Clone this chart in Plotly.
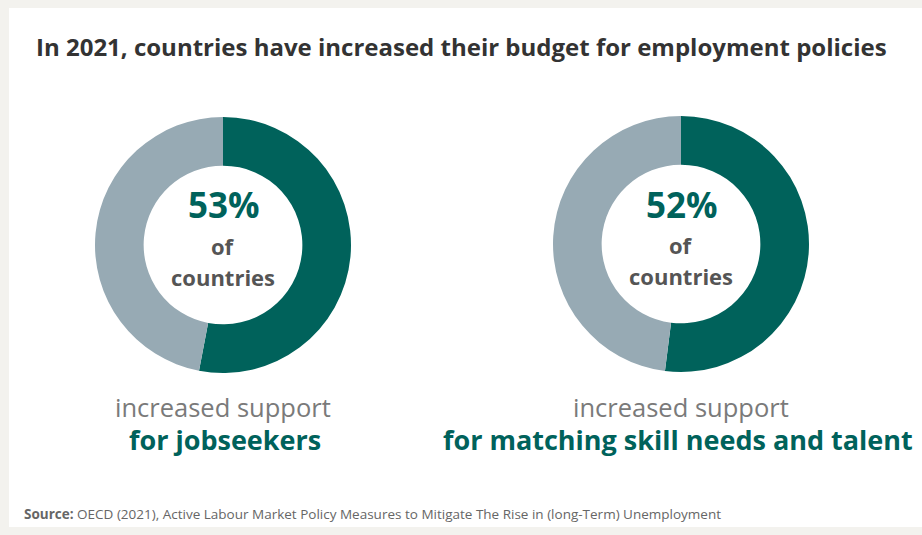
import plotly.graph_objects as go

# Data
labels = ["Increased", "Other"]
share_jobseekers = [53, 47]
share_skills = [52, 48]
pct_labels = ["53%", "52%"]
captions_top = ["increased support", "increased support"]
captions_bottom = ["for jobseekers", "for matching skill needs and talent"]
title_text = "In 2021, countries have increased their budget for employment policies"
source_text = "<b>Source:</b> OECD (2021), Active Labour Market Policy Measures to Mitigate The Rise in (long-Term) Unemployment"

W, H = 922, 535
TEAL = "#00625b"
GREY = "#97aab4"

def px_x(x):
    return x / W

def px_y(y):
    return 1 - y / H

fig = go.Figure()

centers = [(223, 245), (681, 244)]
R = 128
for (cx, cy), vals in zip(centers, [share_jobseekers, share_skills]):
    fig.add_trace(go.Pie(
        labels=labels, values=vals, hole=0.62, sort=False,
        direction="clockwise", rotation=0,
        marker=dict(colors=[TEAL, GREY], line=dict(width=0)),
        textinfo="none", hoverinfo="label+percent", showlegend=False,
        domain=dict(x=[px_x(cx - R), px_x(cx + R)], y=[px_y(cy + R), px_y(cy - R)]),
    ))

annotations = []
annotations.append(dict(x=px_x(34), y=px_y(46), xref="paper", yref="paper", xanchor="left", yanchor="middle",
                        text="<b>" + title_text + "</b>", showarrow=False,
                        font=dict(family="Open Sans", size=24, color="#333333")))
for i, (cx, cy) in enumerate(centers):
    annotations.append(dict(x=px_x(cx + 1), y=px_y(cy - 40), xref="paper", yref="paper", xanchor="center", yanchor="middle",
                            text="<b>" + pct_labels[i] + "</b>", showarrow=False,
                            font=dict(family="Open Sans", size=35, color=TEAL)))
    annotations.append(dict(x=px_x(cx), y=px_y(cy + 1), xref="paper", yref="paper", xanchor="center", yanchor="middle",
                            text="<b>of</b>", showarrow=False,
                            font=dict(family="Open Sans", size=22, color="#555555")))
    annotations.append(dict(x=px_x(cx), y=px_y(cy + 32), xref="paper", yref="paper", xanchor="center", yanchor="middle",
                            text="<b>countries</b>", showarrow=False,
                            font=dict(family="Open Sans", size=22, color="#555555")))
    annotations.append(dict(x=px_x(cx), y=px_y(407), xref="paper", yref="paper", xanchor="center", yanchor="middle",
                            text=captions_top[i], showarrow=False,
                            font=dict(family="Open Sans", size=25.5, color="#7a7a7a")))
    annotations.append(dict(x=px_x(cx + 2 if i == 0 else cx - 3), y=px_y(439), xref="paper", yref="paper", xanchor="center", yanchor="middle",
                            text="<b>" + captions_bottom[i] + "</b>", showarrow=False,
                            font=dict(family="Open Sans", size=27, color=TEAL)))
annotations.append(dict(x=px_x(22), y=px_y(514), xref="paper", yref="paper", xanchor="left", yanchor="middle",
                        text=source_text, showarrow=False,
                        font=dict(family="Open Sans", size=13.5, color="#666666")))

fig.update_layout(
    width=W, height=H,
    margin=dict(l=0, r=0, t=0, b=0),
    paper_bgcolor="#f3f2ee",
    plot_bgcolor="#ffffff",
    annotations=annotations,
    shapes=[dict(type="rect", xref="paper", yref="paper", x0=px_x(9), x1=1, y0=px_y(527), y1=px_y(8),
                 fillcolor="#ffffff", line=dict(width=0), layer="below")],
)

fig.write_html("out.html", config={"displayModeBar": False},
               post_script="document.body.style.margin='0';document.body.style.overflow='hidden';")
